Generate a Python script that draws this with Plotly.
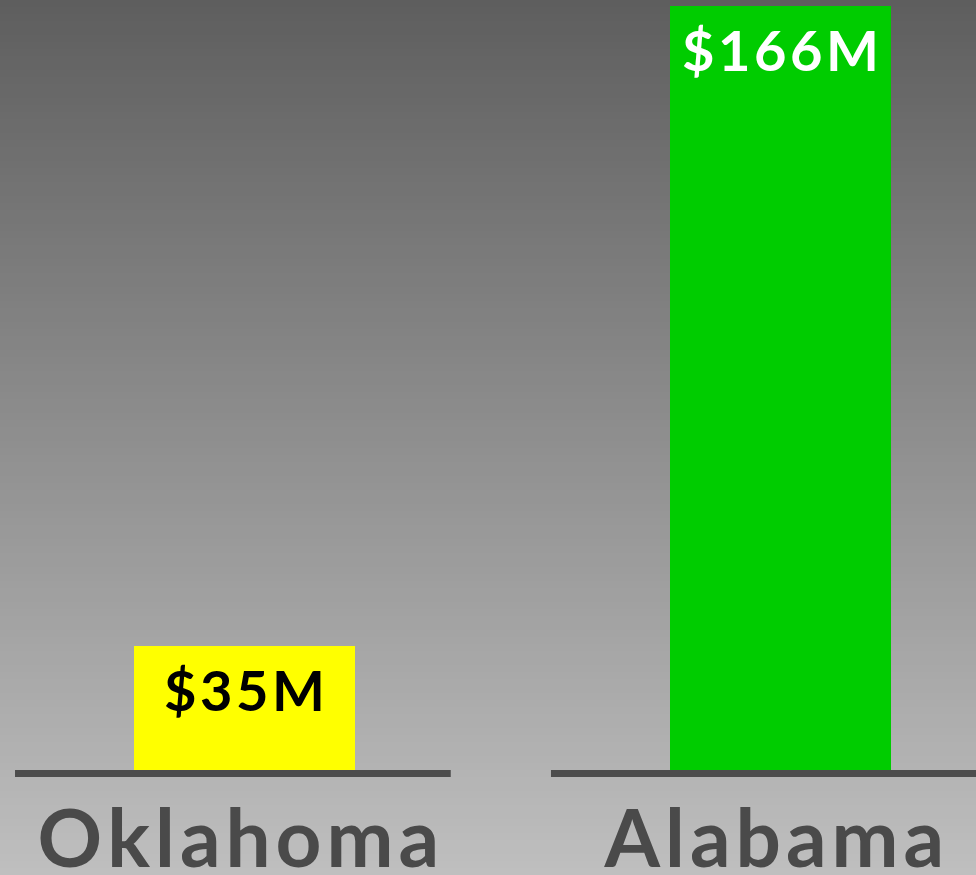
import plotly.graph_objects as go

# ---- data ----
states = ["Oklahoma", "Alabama"]
values = [35, 166]
value_labels = ["$35M", "$166M"]
bar_colors = ["#ffff00", "#00cc00"]
label_colors = ["#000000", "#ffffff"]

HS = "\u200a"  # hair space used for letter spacing


def spaced(s):
    return HS.join(list(s))


W, H = 976, 875
PLOT_H = 770
B = H - PLOT_H

fig = go.Figure()
fig.add_trace(go.Bar(
    x=list(range(len(states))),
    y=values,
    marker=dict(color=bar_colors, line=dict(width=0)),
    width=0.412,
    hoverinfo="skip",
))

# value labels inside bars, near the top
for i, (v, t, c) in enumerate(zip(values, value_labels, label_colors)):
    fig.add_annotation(
        x=i, y=v, xref="x", yref="y", text=spaced(t), showarrow=False,
        yanchor="top", yshift=-8,
        font=dict(family="Lato", size=56, color=c, weight="bold"),
    )

shapes = []
# vertical gradient background (stripes)
top_c, bot_c = 0x5e, 0xbf
n = 125
for k in range(n):
    f0 = k / n
    f1 = (k + 1) / n
    g = round(top_c + (bot_c - top_c) * (k + 0.5) / n)
    y1 = 1 - f0 * (H / PLOT_H)
    y0 = 1 - f1 * (H / PLOT_H) - 0.002
    shapes.append(dict(type="rect", xref="paper", yref="paper",
                       x0=0, x1=1, y0=y0, y1=y1, layer="below",
                       line=dict(width=0), fillcolor=f"rgb({g},{g},{g})"))
# baseline segments under each category
for i in range(len(states)):
    shapes.append(dict(type="rect", xref="x", yref="paper",
                       x0=i - 0.428, x1=i + 0.385,
                       y0=-7 / PLOT_H, y1=0, layer="above",
                       line=dict(width=0), fillcolor="#4d4d4d"))

fig.update_layout(
    width=W, height=H,
    margin=dict(l=0, r=0, t=0, b=B, pad=0, autoexpand=False),
    paper_bgcolor="#bfbfbf",
    plot_bgcolor="rgba(0,0,0,0)",
    showlegend=False,
    shapes=shapes,
    bargap=0,
    xaxis=dict(
        range=[-0.456, 1.365],
        tickmode="array",
        tickvals=list(range(len(states))),
        ticktext=[spaced(s) for s in states],
        tickfont=dict(family="Lato", size=80, color="#4a4a4a", weight="bold"),
        showgrid=False, zeroline=False, showline=False, ticks="",
        ticklabelshift=-6,
        ticklabelstandoff=16,
        automargin=False,
        fixedrange=True,
    ),
    yaxis=dict(
        range=[9.6, 167.2],
        visible=False, showgrid=False, zeroline=False,
        automargin=False,
        fixedrange=True,
    ),
)

fig.write_html(
    "out.html",
    config={"displayModeBar": False},
    post_script="document.body.style.margin='0';document.body.style.overflow='hidden';",
)
